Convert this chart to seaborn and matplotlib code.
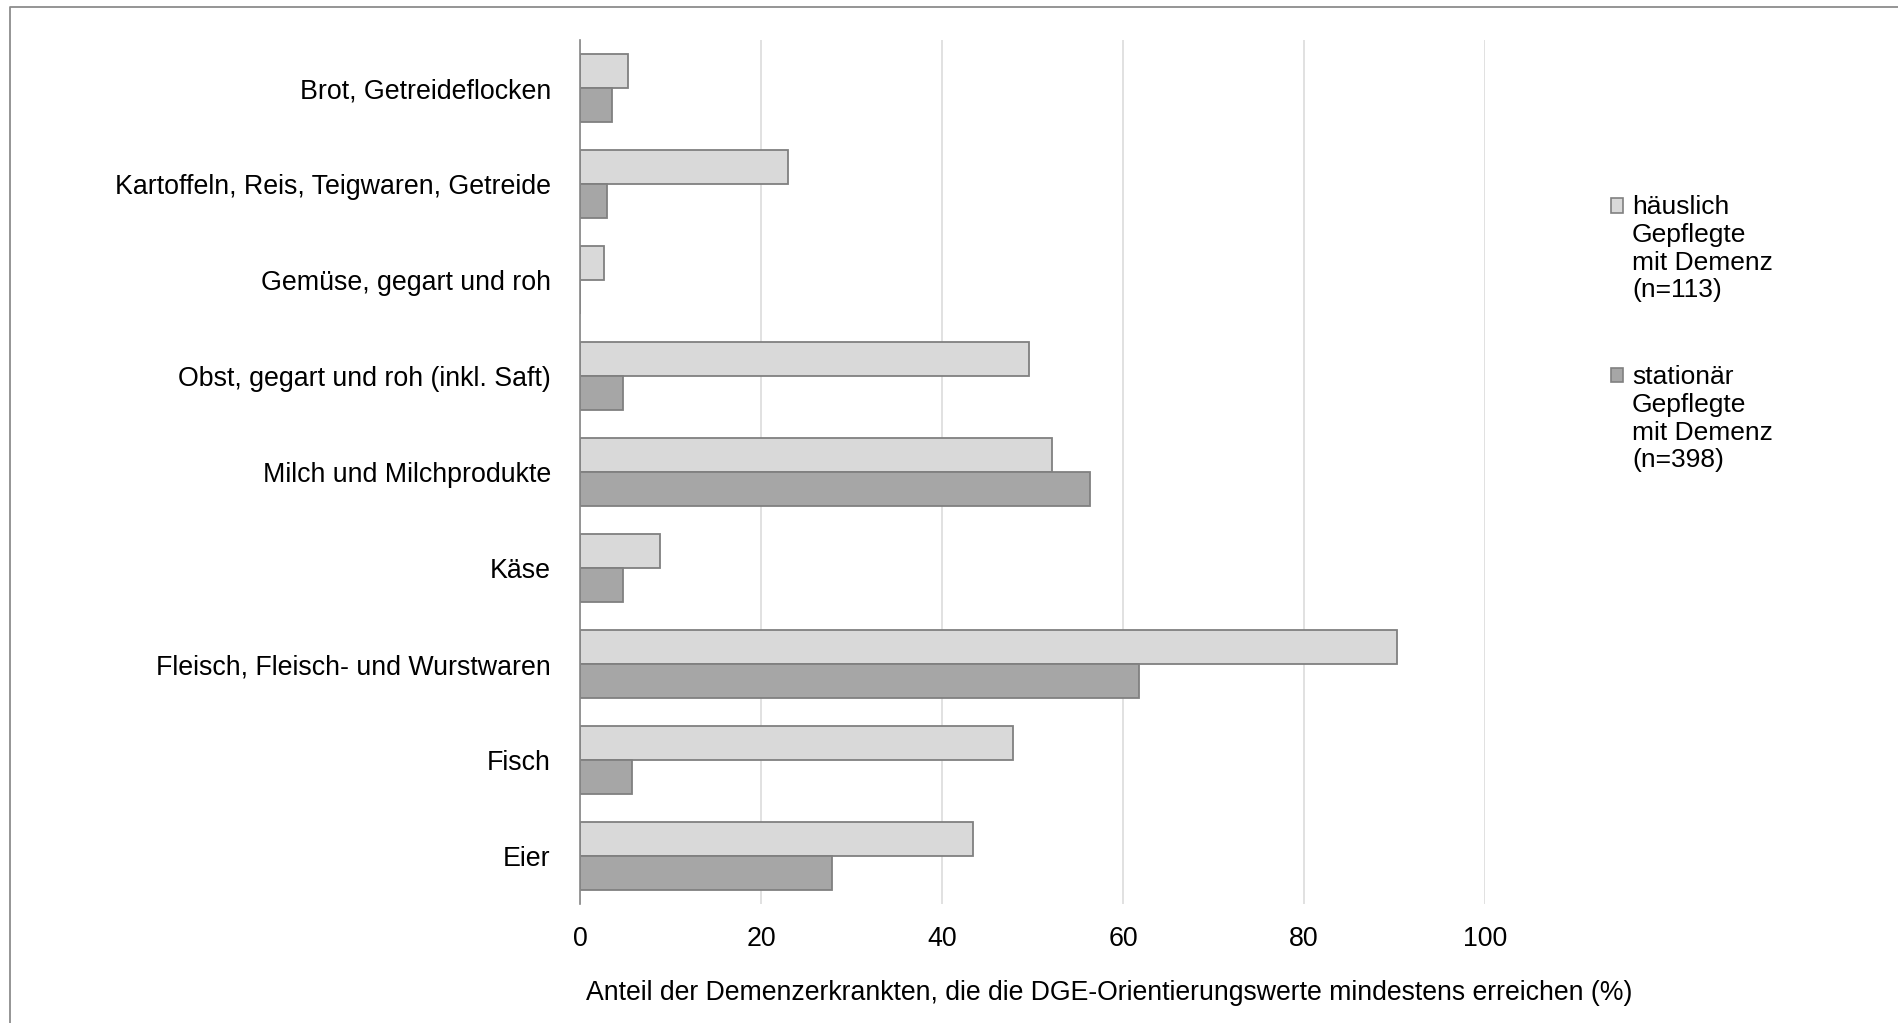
import matplotlib
matplotlib.use("Agg")
import matplotlib.pyplot as plt
import matplotlib.patches as mpatches
from matplotlib.lines import Line2D
import seaborn as sns
import pandas as pd

# Food groups and the share of people with dementia reaching the DGE reference values
categories = [
    "Brot, Getreideflocken",
    "Kartoffeln, Reis, Teigwaren, Getreide",
    "Gemüse, gegart und roh",
    "Obst, gegart und roh (inkl. Saft)",
    "Milch und Milchprodukte",
    "Käse",
    "Fleisch, Fleisch- und Wurstwaren",
    "Fisch",
    "Eier",
]
home_care = [5.3, 23.0, 2.7, 49.6, 52.2, 8.8, 90.3, 47.8, 43.4]
residential_care = [3.5, 3.0, 0.0, 4.8, 56.3, 4.8, 61.8, 5.8, 27.9]
series_labels = [
    "häuslich\nGepflegte\nmit Demenz\n(n=113)",
    "stationär\nGepflegte\nmit Demenz\n(n=398)",
]
x_ticks = [0, 20, 40, 60, 80, 100]
x_label = "Anteil der Demenzerkrankten, die die DGE-Orientierungswerte mindestens erreichen (%)"

df = pd.DataFrame({
    "Kategorie": categories * 2,
    "Wert": home_care + residential_care,
    "Gruppe": [series_labels[0]] * len(categories) + [series_labels[1]] * len(categories),
})

sns.set_style("white")
plt.rcParams["font.family"] = ["Liberation Sans", "DejaVu Sans"]

W, H, DPI = 1898, 1023, 100
fig = plt.figure(figsize=(W / DPI, H / DPI), dpi=DPI)
ax = fig.add_axes([580 / W, 1 - 904 / H, (1485 - 580) / W, (904 - 40) / H])

colors = ["#d9d9d9", "#a6a6a6"]
edge = "#808080"

sns.barplot(
    data=df, y="Kategorie", x="Wert", hue="Gruppe", order=categories,
    hue_order=series_labels, palette=colors, orient="h", width=0.71,
    edgecolor=edge, linewidth=1.3, saturation=1, legend=False, ax=ax,
)

ax.set_xlim(0, 100)
ax.set_xticks(x_ticks)
ax.set_xticklabels([str(t) for t in x_ticks])
ax.xaxis.grid(True, color="#d9d9d9", linewidth=1.1)
ax.yaxis.grid(False)
ax.set_axisbelow(True)
for side in ["top", "right", "bottom"]:
    ax.spines[side].set_visible(False)
ax.spines["left"].set_color("#868686")
ax.spines["left"].set_linewidth(1.2)
ax.tick_params(axis="both", length=0, labelsize=19.3, colors="black")
ax.tick_params(axis="y", pad=21)
ax.tick_params(axis="x", pad=16)
ax.set_ylabel("")
ax.set_xlabel(x_label, fontsize=19.2, color="black")
ax.xaxis.set_label_coords(0.5845, -0.103)
ax.xaxis.label.set_verticalalignment("center")

# Legend with the marker square next to the first line of each entry
handles = [mpatches.Patch(facecolor=c, edgecolor=edge, linewidth=1.2) for c in colors]
leg = fig.legend(
    handles, series_labels, loc="upper left",
    bbox_to_anchor=(1611 / W, 1 - 195 / H), bbox_transform=fig.transFigure,
    frameon=False, fontsize=19, borderpad=0, borderaxespad=0,
    handlelength=0.45, handleheight=0.45, handletextpad=0.35, labelspacing=2.37,
)
for t in leg.get_texts():
    t.set_color("black")
for hnd in leg.legend_handles:
    hnd.set_y(hnd.get_y() + 31.2)

# Chart frame (top and left edges)
fig.add_artist(Line2D([10 / W, 10 / W, 1.0], [0.0, 1 - 7 / H, 1 - 7 / H],
                      transform=fig.transFigure, color="#8c8c8c", linewidth=1.3))

fig.savefig("out.png", dpi=DPI)
